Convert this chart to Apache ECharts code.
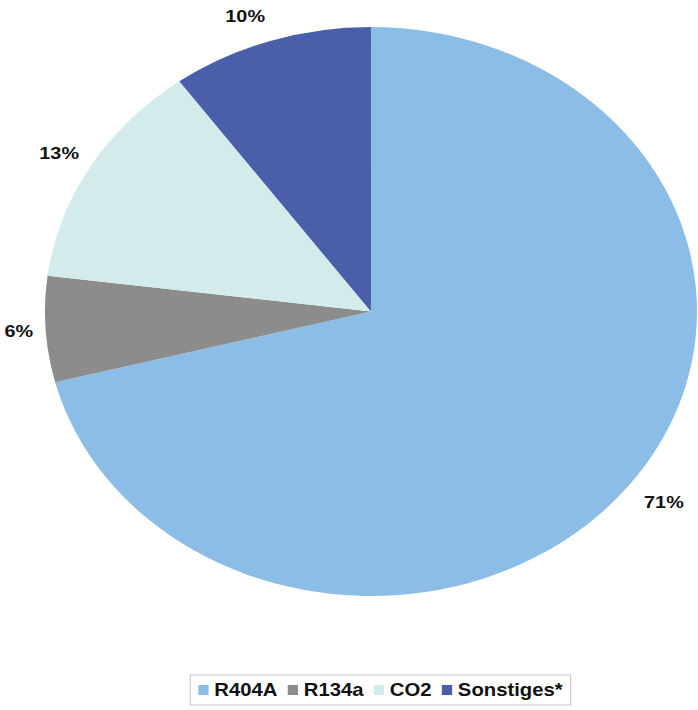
<!DOCTYPE html>
<html>
<head>
<meta charset="utf-8">
<script src="https://cdn.jsdelivr.net/npm/echarts@6/dist/echarts.min.js"></script>
<style>
  html, body { margin: 0; padding: 0; background: #ffffff; }
  #wrap { width: 698px; height: 710px; overflow: hidden; position: relative; }
  #chart { width: 609px; height: 710px; transform: scaleX(1.146); transform-origin: 0 0; }
</style>
</head>
<body>
<div id="wrap"><div id="chart"></div></div>
<script>
const categories = ['R404A', 'R134a', 'CO2', 'Sonstiges*'];
const values = [71, 6, 13, 10];
const colors = ['#8BBDE6', '#8C8C8C', '#D3ECEB', '#4A5EAA'];
// per-label gap to the (hidden) label line, styling only
const labelGaps = [-7, -15, -12.5, -3.5];

const chart = echarts.init(document.getElementById('chart'), null, { renderer: 'svg' });
const fontFamily = '"Liberation Sans", Arial, sans-serif';

chart.setOption({
  backgroundColor: '#ffffff',
  animation: false,
  color: colors,
  legend: {
    data: categories,
    orient: 'horizontal',
    left: 166,
    top: 675,
    padding: [6, 7, 6, 7],
    itemGap: 9,
    itemWidth: 9,
    itemHeight: 10,
    icon: 'rect',
    borderColor: '#c8c8c8',
    borderWidth: 1,
    textStyle: { fontFamily: fontFamily, fontWeight: 'bold', fontSize: 17.7, color: '#111111' }
  },
  series: [{
    type: 'pie',
    center: [323.7, 311.5],
    radius: 284.5,
    startAngle: 90,
    clockwise: true,
    avoidLabelOverlap: false,
    itemStyle: { borderWidth: 0 },
    emphasis: { disabled: true },
    label: {
      show: true,
      position: 'outside',
      formatter: '{c}%',
      fontFamily: fontFamily,
      fontWeight: 'bold',
      fontSize: 17.3,
      color: '#111111',
      distanceToLabelLine: -8
    },
    labelLine: { show: false, length: 26, length2: 0 },
    data: categories.map((n, i) => ({
      name: n,
      value: values[i],
      label: { distanceToLabelLine: labelGaps[i] }
    }))
  }]
});
</script>
</body>
</html>
